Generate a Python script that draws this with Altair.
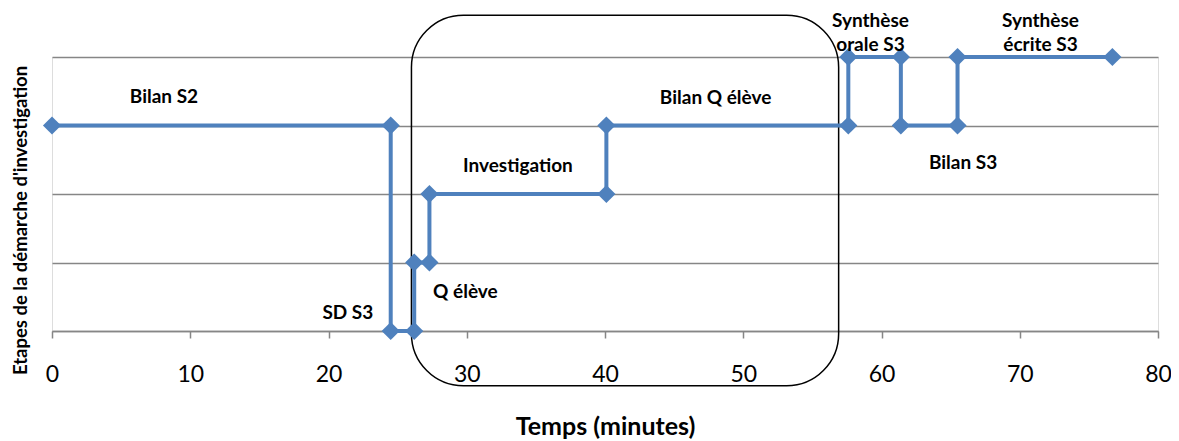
import altair as alt
import pandas as pd

# Step-line data (time in minutes, stage level)
times = [0, 24.5, 24.5, 26.2, 26.2, 27.3, 27.3, 40.1, 40.1, 57.6, 57.6, 61.4, 61.4, 65.5, 65.5, 76.7]
levels = [3, 3, 0, 0, 1, 1, 2, 2, 3, 3, 4, 4, 3, 3, 4, 4]

# Annotation labels
label_texts = ["Bilan S2", "SD S3", "Q élève", "Investigation", "Bilan Q élève",
               "Synthèse", "orale S3", "Synthèse", "écrite S3", "Bilan S3"]
label_x = [8.1, 21.4, 29.9, 33.7, 48.0, 59.2, 59.2, 71.5, 71.5, 65.9]
label_y = [3.42, 0.26, 0.57, 2.41, 3.40, 4.52, 4.17, 4.53, 4.18, 2.45]

# Rounded box annotation (data coords)
box_x, box_x2 = [26.0], [56.9]
box_y, box_y2 = [-0.80], [4.61]

x_ticks = [0, 10, 20, 30, 40, 50, 60, 70, 80]

line_df = pd.DataFrame({"t": times, "lvl": levels, "i": list(range(len(times)))})
lab_df = pd.DataFrame({"txt": label_texts, "x": label_x, "y": label_y})
box_df = pd.DataFrame({"x": box_x, "x2": box_x2, "y": box_y, "y2": box_y2})

FONT = "Lato"
BLUE = "#4F81BD"

xscale = alt.Scale(domain=[0, 80], nice=False, zero=False)
yscale = alt.Scale(domain=[0, 4], nice=False, zero=False)

xaxis = alt.Axis(values=x_ticks, grid=False, domainColor="#868686", domainWidth=1.5,
                 tickColor="#868686", tickWidth=1.5, tickSize=7,
                 labelFont=FONT, labelFontSize=23, labelColor="black", labelPadding=25,
                 labelFlush=False, labelOverlap=False,
                 title="Temps (minutes)", titleFont=FONT, titleFontSize=25,
                 titleFontWeight="bold", titleColor="black",
                 titleBaseline="alphabetic", titleY=103)
yaxis = alt.Axis(values=[0, 1, 2, 3, 4], grid=True, gridColor="#868686", gridWidth=1.5,
                 labels=False, ticks=False, domain=False,
                 title="Etapes de la démarche d'investigation", titleFont=FONT,
                 titleFontSize=18.5, titleFontWeight="bold", titleColor="black",
                 titleX=-32, titleY=163, titleAlign="center", titleBaseline="middle")

base_line = alt.Chart(line_df).mark_line(color=BLUE, strokeWidth=4).encode(
    x=alt.X("t:Q", scale=xscale, axis=xaxis),
    y=alt.Y("lvl:Q", scale=yscale, axis=yaxis),
    order="i:Q",
)
points = alt.Chart(line_df).mark_point(shape="diamond", filled=True, color=BLUE,
                                       size=330, opacity=1).encode(
    x=alt.X("t:Q", scale=xscale),
    y=alt.Y("lvl:Q", scale=yscale),
)
box = alt.Chart(box_df).mark_rect(fill=None, fillOpacity=0, stroke="black", strokeWidth=1.5,
                                  cornerRadius=52).encode(
    x=alt.X("x:Q", scale=xscale),
    x2="x2:Q",
    y=alt.Y("y:Q", scale=yscale),
    y2="y2:Q",
)
labels = alt.Chart(lab_df).mark_text(font=FONT, fontSize=19, fontWeight="bold",
                                     color="black", align="center", baseline="middle").encode(
    x=alt.X("x:Q", scale=xscale),
    y=alt.Y("y:Q", scale=yscale),
    text="txt:N",
)

chart = alt.layer(box, base_line, points, labels).properties(
    width=1106, height=274,
    autosize=alt.AutoSizeParams(type="none"),
    padding={"left": 44, "top": 49, "right": 13, "bottom": 110},
).configure_view(stroke=None).configure(background="white")

chart.save("out.html", embed_options={"renderer": "svg", "actions": False})
